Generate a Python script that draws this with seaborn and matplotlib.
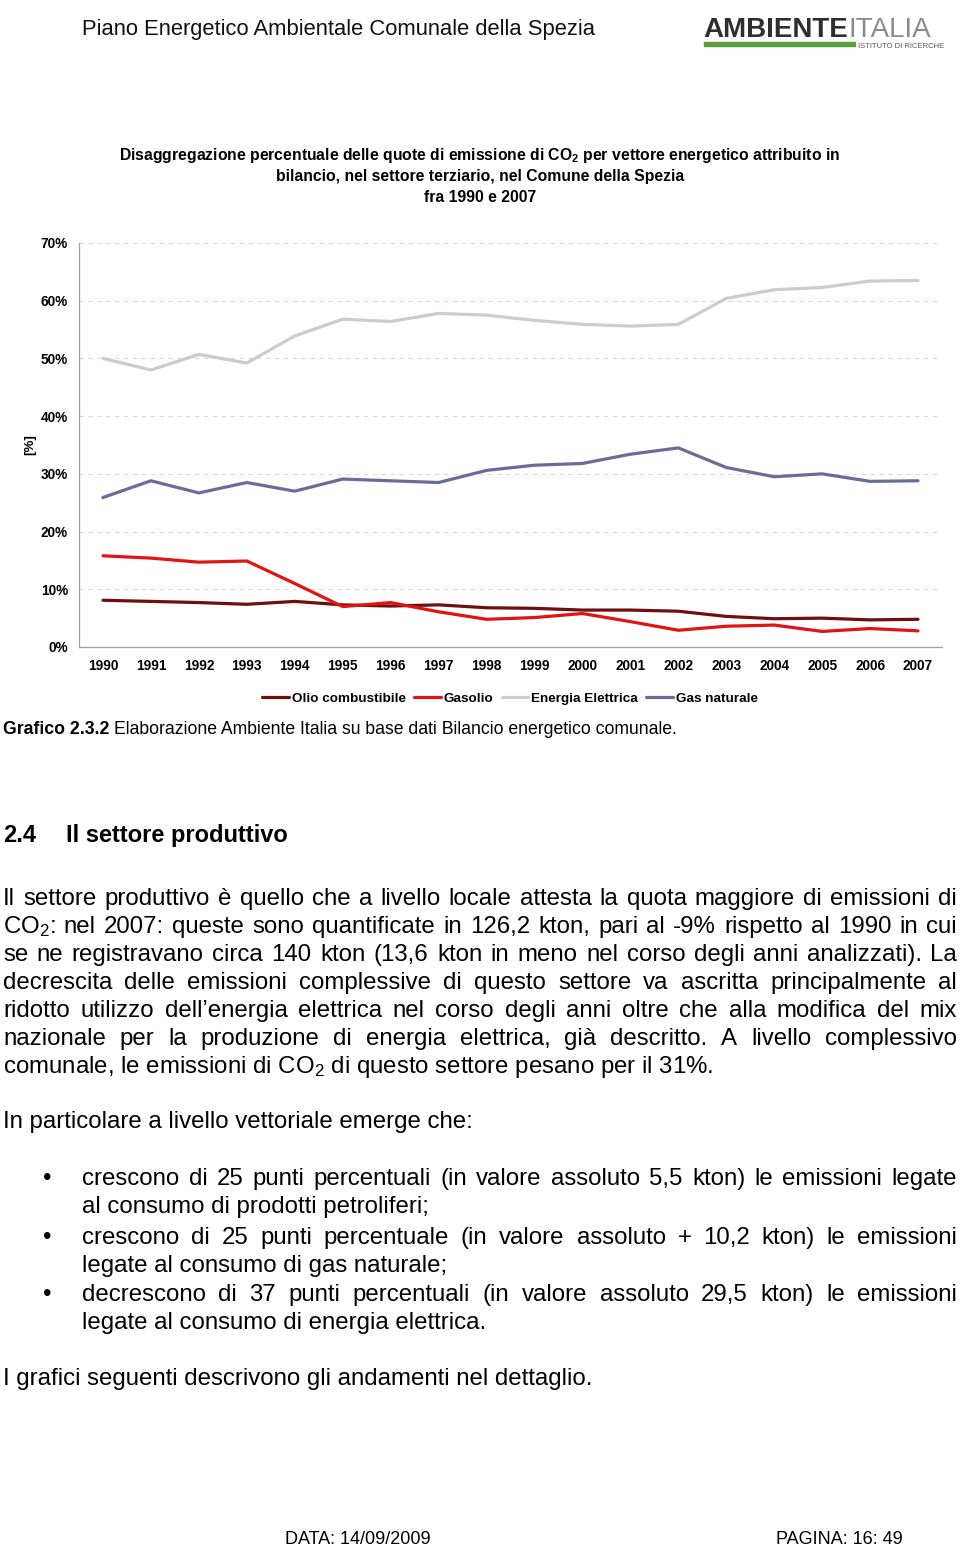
import matplotlib
matplotlib.use("Agg")
import matplotlib.pyplot as plt
import seaborn as sns
import pandas as pd

# ---------------- data ----------------
years = list(range(1990, 2008))
olio = [8.1, 7.9, 7.7, 7.4, 7.9, 7.3, 7.1, 7.3, 6.8, 6.7, 6.4, 6.4, 6.2, 5.3, 4.9, 5.0, 4.7, 4.8]
gasolio = [15.8, 15.4, 14.7, 14.9, 11.0, 7.0, 7.7, 6.1, 4.8, 5.1, 5.8, 4.4, 2.9, 3.6, 3.8, 2.7, 3.2, 2.8]
energia = [50.0, 48.0, 50.7, 49.2, 53.9, 56.8, 56.4, 57.8, 57.5, 56.6, 55.9, 55.6, 55.9, 60.4, 61.9, 62.3, 63.4, 63.5]
gas_nat = [25.9, 28.8, 26.7, 28.5, 27.0, 29.1, 28.8, 28.5, 30.6, 31.5, 31.8, 33.4, 34.5, 31.1, 29.5, 30.0, 28.7, 28.8]
series_names = ["Olio combustibile", "Gasolio", "Energia Elettrica", "Gas naturale"]
series_colors = ["#6E0E0E", "#E01414", "#CCCCCC", "#6B6B99"]
y_ticks = [0, 10, 20, 30, 40, 50, 60, 70]

title_lines = [
    "Disaggregazione percentuale delle quote di emissione di CO$_2$ per vettore energetico attribuito in",
    "bilancio, nel settore terziario, nel Comune della Spezia",
    "fra 1990 e 2007",
]

para_lines = [
    "Il settore produttivo è quello che a livello locale attesta la quota maggiore di emissioni di",
    "CO$_2$: nel 2007: queste sono quantificate in 126,2 kton, pari al -9% rispetto al 1990 in cui",
    "se ne registravano circa 140 kton (13,6 kton in meno nel corso degli anni analizzati). La",
    "decrescita delle emissioni complessive di questo settore va ascritta principalmente al",
    "ridotto utilizzo dell’energia elettrica nel corso degli anni oltre che alla modifica del mix",
    "nazionale per la produzione di energia elettrica, già descritto. A livello complessivo",
    "comunale, le emissioni di CO$_2$ di questo settore pesano per il 31%.",
]
bullet_lines = [
    ["crescono di 25 punti percentuali (in valore assoluto 5,5 kton) le emissioni legate",
     "al consumo di prodotti petroliferi;"],
    ["crescono di 25 punti percentuale (in valore assoluto + 10,2 kton) le emissioni",
     "legate al consumo di gas naturale;"],
    ["decrescono di 37 punti percentuali (in valore assoluto 29,5 kton) le emissioni",
     "legate al consumo di energia elettrica."],
]

df = pd.DataFrame({
    "anno": years * 4,
    "valore": olio + gasolio + energia + gas_nat,
    "vettore": sum([[n] * len(years) for n in series_names], []),
})

# ---------------- style ----------------
sns.set_theme(style="white")
plt.rcParams["font.family"] = ["Liberation Sans", "DejaVu Sans"]
plt.rcParams["mathtext.default"] = "regular"
plt.rcParams["text.color"] = "black"
plt.rcParams["axes.labelcolor"] = "black"
plt.rcParams["xtick.color"] = "black"
plt.rcParams["ytick.color"] = "black"

W, H = 960, 1549
fig = plt.figure(figsize=(W / 100, H / 100), dpi=100)


def fx(x):
    return x / W


def fy(y):
    return 1 - y / H


TICK = 9.8
ax = fig.add_axes([fx(79), fy(647), fx(942) - fx(79), fy(243) - fy(647)])
sns.lineplot(data=df, x="anno", y="valore", hue="vettore", hue_order=series_names,
             palette=dict(zip(series_names, series_colors)), linewidth=2.3, ax=ax,
             legend=True)

ax.set_xlim(1989.5, 2007.5)
ax.set_ylim(0, 70)
ax.set_yticks(y_ticks)
ax.set_yticklabels([f"{v}%" for v in y_ticks], fontweight="bold", fontsize=TICK)
ax.set_xticks(years)
ax.set_xticklabels([str(y) for y in years], fontweight="bold", fontsize=TICK)
ax.set_xticks([y - 0.5 for y in years] + [2007.5], minor=True)
ax.tick_params(axis="x", which="major", length=0, pad=9, labelcolor="black")
ax.tick_params(axis="x", which="minor", length=5, width=0.8, color="#A0A0A0", direction="out")
ax.tick_params(axis="y", which="major", length=5, width=0.8, color="#A0A0A0", direction="out",
               pad=3, labelcolor="black")
ax.set_xlabel("")
ax.set_ylabel("")
for s in ["top", "right"]:
    ax.spines[s].set_visible(False)
for s in ["left", "bottom"]:
    ax.spines[s].set_color("#A0A0A0")
    ax.spines[s].set_linewidth(0.9)
ax.yaxis.grid(True, color="#D9D9D9", linestyle=(0, (4, 4)), linewidth=0.8)
ax.xaxis.grid(False)
ax.set_axisbelow(True)

handles, labels = ax.get_legend_handles_labels()
leg = ax.legend(handles, labels, loc="center", bbox_to_anchor=(fx(510), fy(699)),
                bbox_transform=fig.transFigure, ncol=4, frameon=False,
                prop={"weight": "bold", "size": 9.7}, handlelength=2.0,
                handletextpad=0.2, columnspacing=0.6)
for t in leg.get_texts():
    t.set_color("black")

fig.text(fx(30), fy(445), "[%]", rotation=90, ha="center", va="center",
         fontsize=9.5, fontweight="bold")

# ---------------- titles / header ----------------
for i, line in enumerate(title_lines):
    fig.text(fx(480), fy(160 + 21 * i), line, ha="center", va="baseline",
             fontsize=11.3, fontweight="bold")

renderer = fig.canvas.get_renderer()


def width_px(t):
    return t.get_window_extent(renderer).width


fig.text(fx(82), fy(35), "Piano Energetico Ambientale Comunale della Spezia",
         ha="left", va="baseline", fontsize=15.8, color="#111111")

# logo (text based)
lt1 = fig.text(fx(703), fy(37), "AMBIENTE", ha="left", va="baseline", fontsize=20,
               color="#2E2E2E", fontweight="bold")
w1 = width_px(lt1)
fig.text(fx(703 + w1 + 1), fy(37), "ITALIA", ha="left", va="baseline", fontsize=20,
         color="#8A8A8A")
fig.patches.append(plt.Rectangle((fx(704), fy(45.5)), fx(855) - fx(704), 3 / H,
                                 transform=fig.transFigure, color="#5C9E3C"))
fig.text(fx(858), fy(48), "ISTITUTO DI RICERCHE", ha="left", va="baseline",
         fontsize=5.5, color="#555555")

# ---------------- caption ----------------
c1 = fig.text(fx(3), fy(734), "Grafico 2.3.2", ha="left", va="baseline",
              fontsize=12.7, fontweight="bold")
cw = width_px(c1)
fig.text(fx(3 + cw + 5), fy(734), "Elaborazione Ambiente Italia su base dati Bilancio energetico comunale.",
         ha="left", va="baseline", fontsize=12.7)

# ---------------- heading ----------------
fig.text(fx(3), fy(842), "2.4", ha="left", va="baseline", fontsize=17, fontweight="bold")
fig.text(fx(66), fy(842), "Il settore produttivo", ha="left", va="baseline",
         fontsize=17, fontweight="bold")

BODY = 17.3


def draw_line(text, x0, x1, y_base, justify=True, size=BODY):
    words = text.split(" ")
    if not justify:
        fig.text(fx(x0), fy(y_base), text, ha="left", va="baseline", fontsize=size)
        return
    ts = [fig.text(0, fy(y_base), w, ha="left", va="baseline", fontsize=size) for w in words]
    ws = [width_px(t) for t in ts]
    gap = (x1 - x0 - sum(ws)) / max(len(ws) - 1, 1)
    x = x0
    for t, w in zip(ts, ws):
        t.set_x(fx(x))
        x += w + gap


for i, line in enumerate(para_lines):
    draw_line(line, 3, 957, 905 + 28 * i, justify=(i < len(para_lines) - 1))

draw_line("In particolare a livello vettoriale emerge che:", 3, 957, 1128, justify=False)

bullet_y = [1185, 1244, 1301]
for by, (l1, l2) in zip(bullet_y, bullet_lines):
    fig.text(fx(47), fy(by), "•", ha="center", va="baseline", fontsize=BODY)
    draw_line(l1, 82, 957, by, justify=True)
    draw_line(l2, 82, 957, by + 28, justify=False)

draw_line("I grafici seguenti descrivono gli andamenti nel dettaglio.", 3, 957, 1385, justify=False)

# ---------------- footer ----------------
fig.text(fx(285), fy(1544), "DATA: 14/09/2009", ha="left", va="baseline", fontsize=13)
fig.text(fx(776), fy(1544), "PAGINA: 16: 49", ha="left", va="baseline", fontsize=13)

fig.savefig("out.png", dpi=100)
